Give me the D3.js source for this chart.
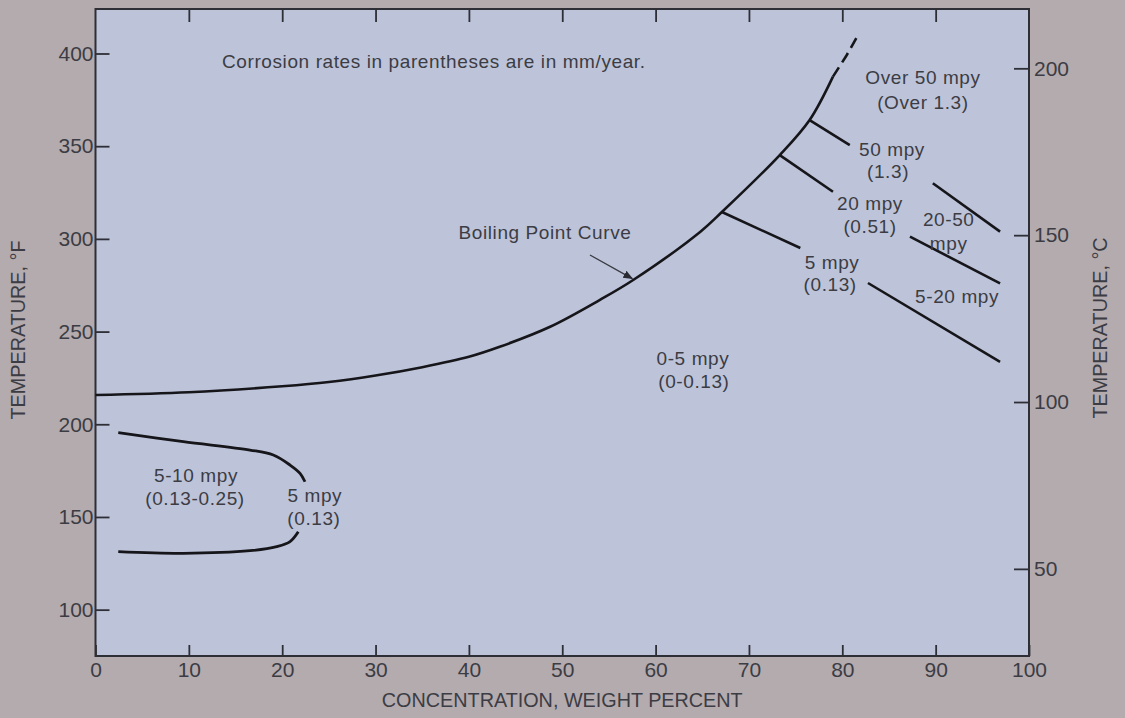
<!DOCTYPE html>
<html>
<head>
<meta charset="utf-8">
<script src="https://cdn.jsdelivr.net/npm/d3@7"></script>
<style>
  html, body { margin: 0; padding: 0; background: #b2aaad; }
  svg { display: block; }
  text { font-family: "Liberation Sans", Arial, sans-serif; fill: #3c3c44; }
</style>
</head>
<body>
<svg id="chart" width="1125" height="718"></svg>
<script>
// ---------- data (concentration wt %, temperature °F) ----------
const xTickValues = [0, 10, 20, 30, 40, 50, 60, 70, 80, 90, 100];
const topTickValues = [10, 20, 30, 40, 50, 60, 70, 80, 90];
const fTickValues = [100, 150, 200, 250, 300, 350, 400];
const cTickValues = [50, 100, 150, 200];

const boilingSolid = [
  [0, 215.8], [10, 217.3], [20, 220.5], [25, 222.8], [30, 226.3], [35, 230.8],
  [40, 236.4], [43.3, 241.8], [48.7, 252.6], [54.0, 267.0], [57.6, 277.8],
  [64.8, 303.9], [67.1, 314.5], [73.3, 345.2], [76.5, 364.1], [79.0, 387.5]
];
const boilingDashed = [[79.0, 387.5], [80.4, 398.5], [81.7, 410]];

const iso50a = [[76.5, 364.1], [80.8, 350.6]];
const iso50b = [[89.7, 330.0], [96.9, 303.9]];
const iso20a = [[73.3, 345.2], [79.0, 325.4]];
const iso20b = [[87.25, 301.2], [96.9, 276.0]];
const iso5a  = [[67.1, 314.5], [75.5, 295.1]];
const iso5b  = [[82.75, 276.2], [96.9, 233.7]];

const noseUpper = [[2.44, 195.5], [9.41, 190.6], [16.55, 186.1], [19.05, 183.4],
                   [20.84, 178.0], [21.91, 173.5], [22.44, 169.0]];
const noseLower = [[2.44, 131.3], [9.41, 130.4], [16.55, 131.8], [19.41, 134.0],
                   [20.84, 136.7], [21.72, 142.0]];

const arrowBoiling = [[52.97, 291.3], [57.5, 278.6]];

const labelTexts = [
  ["Corrosion rates in parentheses are in mm/year.", 13.55, 395.9, "start"],
  ["Over 50 mpy", 88.64, 387.4, "middle"],
  ["(Over 1.3)", 88.64, 373.8, "middle"],
  ["50 mpy", 85.32, 348.5, "middle"],
  ["(1.3)", 84.9, 336.6, "middle"],
  ["20 mpy", 82.97, 318.9, "middle"],
  ["(0.51)", 82.97, 306.9, "middle"],
  ["20-50", 91.4, 310.4, "middle"],
  ["mpy", 91.4, 297.6, "middle"],
  ["5 mpy", 78.9, 287.6, "middle"],
  ["(0.13)", 78.7, 275.6, "middle"],
  ["5-20 mpy", 92.3, 269.2, "middle"],
  ["0-5 mpy", 64.0, 235.3, "middle"],
  ["(0-0.13)", 64.1, 223.3, "middle"],
  ["Boiling Point Curve", 48.15, 303.7, "middle"],
  ["5-10 mpy", 10.77, 172.2, "middle"],
  ["(0.13-0.25)", 10.66, 160.2, "middle"],
  ["5 mpy", 23.5, 161.4, "middle"],
  ["(0.13)", 23.4, 149.4, "middle"]
];

// ---------- layout ----------
const svg = d3.select("#chart");
const plotLeft = 95.5, plotRight = 1029, plotTop = 9, plotBottom = 656;
const fDomain = [75, 424];

const x = d3.scaleLinear().domain([0, 100]).range([plotLeft, plotRight]);
const yF = d3.scaleLinear().domain(fDomain).range([plotBottom, plotTop]);
const yC = d3.scaleLinear().domain(fDomain.map(f => (f - 32) / 1.8)).range([plotBottom, plotTop]);

svg.append("rect").attr("width", 1125).attr("height", 718).attr("fill", "#b3abae");
svg.append("rect")
  .attr("x", plotLeft).attr("y", plotTop)
  .attr("width", plotRight - plotLeft).attr("height", plotBottom - plotTop)
  .attr("fill", "#bdc4d9");

// axes
const fontSize = "19px";
const tickFont = "21px";
const titleFont = "19.8px";
function styleAxis(g) {
  g.select(".domain").remove();
  g.selectAll(".tick line").attr("stroke", "#2e2e36").attr("stroke-width", 1.8);
  g.selectAll(".tick text").attr("font-size", tickFont)
    .attr("font-family", "'Liberation Sans', Arial, sans-serif").attr("fill", "#3c3c44");
}

svg.append("g").attr("transform", `translate(0,${plotBottom})`)
  .call(d3.axisBottom(x).tickValues(xTickValues).tickSizeInner(-11).tickSizeOuter(0).tickPadding(6))
  .call(styleAxis);

svg.append("g").attr("transform", `translate(0,${plotTop})`)
  .call(d3.axisTop(x).tickValues(topTickValues).tickSizeInner(-13).tickSizeOuter(0).tickFormat(""))
  .call(styleAxis);

svg.append("g").attr("transform", `translate(${plotLeft},0)`)
  .call(d3.axisLeft(yF).tickValues(fTickValues).tickSizeInner(-14).tickSizeOuter(0).tickPadding(2))
  .call(styleAxis);

svg.append("g").attr("transform", `translate(${plotRight},0)`)
  .call(d3.axisRight(yC).tickValues(cTickValues).tickSizeInner(-15).tickSizeOuter(0).tickPadding(5))
  .call(styleAxis);

// frame
svg.append("rect")
  .attr("x", plotLeft).attr("y", plotTop)
  .attr("width", plotRight - plotLeft).attr("height", plotBottom - plotTop)
  .attr("fill", "none").attr("stroke", "#2e2e36").attr("stroke-width", 2);

// curves
const line = d3.line().x(d => x(d[0])).y(d => yF(d[1]));
const smoothCR = d3.line().x(d => x(d[0])).y(d => yF(d[1])).curve(d3.curveCatmullRom);

const ink = "#15151a";
svg.append("path").attr("d", smoothCR(boilingSolid))
  .attr("fill", "none").attr("stroke", ink).attr("stroke-width", 2.6);
svg.append("path").attr("d", line(boilingDashed))
  .attr("fill", "none").attr("stroke", ink).attr("stroke-width", 2.6)
  .attr("stroke-dasharray", "11,6");

[iso50a, iso50b, iso20a, iso20b, iso5a, iso5b].forEach(seg => {
  svg.append("path").attr("d", line(seg))
    .attr("fill", "none").attr("stroke", ink).attr("stroke-width", 2.6);
});

[noseUpper, noseLower].forEach(seg => {
  svg.append("path").attr("d", smoothCR(seg))
    .attr("fill", "none").attr("stroke", ink).attr("stroke-width", 2.8);
});

// arrow
svg.append("defs").append("marker")
  .attr("id", "arrowhead").attr("viewBox", "0 0 10 10")
  .attr("refX", 9).attr("refY", 5).attr("markerWidth", 7).attr("markerHeight", 7)
  .attr("orient", "auto")
  .append("path").attr("d", "M0,1 L10,5 L0,9 Z").attr("fill", "#2a2a32");
svg.append("path").attr("d", line(arrowBoiling))
  .attr("fill", "none").attr("stroke", "#3a3a42").attr("stroke-width", 1.4)
  .attr("marker-end", "url(#arrowhead)");

// labels
svg.append("g").selectAll("text").data(labelTexts).join("text")
  .attr("x", d => x(d[1])).attr("y", d => yF(d[2]))
  .attr("dy", "0.35em")
  .attr("text-anchor", d => d[3])
  .attr("font-size", fontSize)
  .attr("letter-spacing", "0.6px")
  .text(d => d[0]);

// axis titles
svg.append("text")
  .attr("transform", `translate(18,330) rotate(-90)`)
  .attr("text-anchor", "middle").attr("dy", "0.35em")
  .attr("font-size", titleFont)
  .text("TEMPERATURE, °F");

svg.append("text")
  .attr("transform", `translate(1100,328) rotate(-90)`)
  .attr("text-anchor", "middle").attr("dy", "0.35em")
  .attr("font-size", titleFont)
  .text("TEMPERATURE, °C");

svg.append("text")
  .attr("x", x(50)).attr("y", 707)
  .attr("text-anchor", "middle")
  .attr("font-size", titleFont)
  .text("CONCENTRATION, WEIGHT PERCENT");
</script>
</body>
</html>
